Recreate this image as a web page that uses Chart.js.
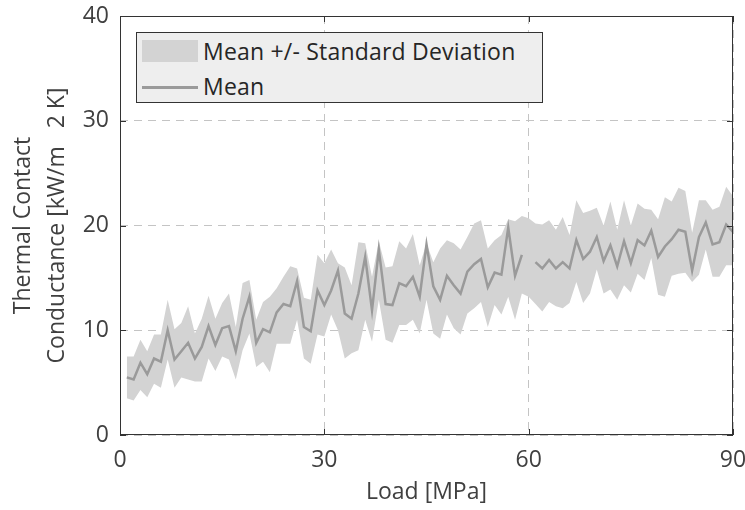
<!DOCTYPE html>
<html>
<head>
<meta charset="utf-8">
<script src="https://cdn.jsdelivr.net/npm/chart.js@4.4.1/dist/chart.umd.min.js"></script>
<style>
  body { margin: 0; background: #fff; }
  #wrap { position: relative; width: 745px; height: 510px; }
  #legend {
    position: absolute; left: 136px; top: 32px; width: 407px; height: 71px;
    background: #eeeeee; border: 1px solid #333; box-sizing: border-box;
    font-family: "Open Sans", sans-serif; font-size: 23px; color: #262626;
  }
  .item { position: absolute; left: 5px; height: 32px; line-height: 32px; }
  .item span { position: absolute; left: 61px; white-space: nowrap; letter-spacing: 0.2px; }
  .swatch { position: absolute; left: 0; top: 5px; width: 56px; height: 22px; background: #d3d3d3; }
  .line { position: absolute; left: 0; top: 16px; width: 56px; height: 3px; background: #9a9a9a; }
</style>
</head>
<body>
<div id="wrap">
  <canvas id="chart" width="745" height="510"></canvas>
  <div id="legend">
    <div class="item" style="top:2px"><div class="swatch"></div><span>Mean +/- Standard Deviation</span></div>
    <div class="item" style="top:37px"><div class="line"></div><span>Mean</span></div>
  </div>
</div>
<script>
var load = [];
for (var i = 1; i <= 90; i++) load.push(i);

var meanTCC = [5.5, 5.3, 6.9, 5.8, 7.3, 7.0, 10.0, 7.2, 8.0, 8.8,
  7.3, 8.4, 10.4, 8.6, 10.2, 10.4, 8.0, 11.1, 13.2, 8.8,
  10.1, 9.8, 11.7, 12.5, 12.3, 14.7, 10.3, 9.9, 13.8, 12.4,
  13.8, 15.7, 11.6, 11.1, 13.5, 17.0, 11.9, 17.7, 12.5, 12.4,
  14.5, 14.2, 15.1, 13.2, 18.2, 14.2, 12.9, 15.2, 14.3, 13.5,
  15.6, 16.3, 16.8, 14.1, 15.5, 15.3, 19.8, 15.2, 17.2, null,
  16.5, 15.9, 16.7, 15.9, 16.5, 15.9, 18.6, 16.8, 17.5, 18.9,
  16.6, 18.1, 16.1, 18.5, 16.4, 18.6, 18.1, 19.5, 17.0, 18.0,
  18.7, 19.6, 19.4, 15.7, 18.9, 20.3, 18.2, 18.4, 20.1, 19.4];

var upperTCC = [7.5, 7.5, 9.1, 8.0, 9.6, 9.6, 12.9, 10.1, 10.7, 12.3,
  9.7, 11.1, 13.3, 11.1, 12.6, 13.5, 10.3, 14.5, 14.8, 11.0,
  12.7, 13.2, 14.0, 15.1, 16.1, 15.9, 13.1, 12.9, 17.2, 16.4,
  17.7, 16.4, 16.0, 14.3, 18.4, 18.3, 15.1, 18.5, 16.0, 16.1,
  18.5, 17.8, 19.2, 16.2, 18.3, 16.5, 17.8, 18.6, 18.3, 17.7,
  18.9, 20.2, 20.5, 17.8, 18.6, 19.1, 20.6, 20.4, 20.9, 20.7,
  20.2, 20.1, 20.5, 19.6, 20.8, 19.1, 22.4, 21.2, 21.4, 21.7,
  20.0, 22.3, 19.6, 22.4, 20.0, 22.1, 21.6, 21.5, 20.6, 22.7,
  22.3, 23.6, 23.3, 19.3, 22.4, 22.4, 21.5, 21.8, 23.7, 22.8];

var lowerTCC = [3.5, 3.3, 4.3, 3.6, 4.9, 4.5, 7.2, 4.5, 5.5, 5.3,
  5.1, 5.1, 7.3, 6.1, 7.5, 7.2, 5.3, 8.1, 9.7, 6.5,
  7.0, 6.0, 8.7, 8.7, 8.7, 11.0, 7.3, 6.8, 9.6, 9.4,
  11.5, 10.0, 7.3, 7.8, 8.1, 11.0, 8.9, 12.9, 9.1, 8.8,
  10.5, 10.5, 11.0, 9.7, 12.9, 9.7, 9.2, 11.5, 10.2, 9.6,
  11.6, 12.1, 12.7, 10.3, 12.4, 11.5, 13.2, 11.0, 13.5, 13.2,
  12.5, 11.8, 12.7, 12.3, 12.1, 12.6, 14.6, 12.6, 13.5, 15.8,
  13.5, 13.9, 12.9, 14.3, 13.6, 15.4, 14.8, 16.9, 13.4, 13.2,
  15.2, 15.4, 15.5, 14.6, 15.3, 17.7, 15.1, 15.1, 16.2, 16.2];

var xTicks = [0, 30, 60, 90];
var yTicks = [0, 10, 20, 30, 40];

function pts(arr) {
  return arr.map(function(v, i) { return {x: load[i], y: v}; });
}

var fontFam = '"Open Sans", sans-serif';
var textCol = '#404040';

// box and inward tick marks, like matlab "box on"
var boxPlugin = {
  id: 'box',
  afterDraw: function(chart) {
    var a = chart.chartArea, ctx = chart.ctx;
    var sx = chart.scales.x, sy = chart.scales.y;
    ctx.save();
    ctx.strokeStyle = '#333';
    ctx.lineWidth = 1;
    ctx.strokeRect(a.left + 0.5, a.top + 0.5, a.right - a.left - 1, a.bottom - a.top - 1);
    ctx.beginPath();
    xTicks.forEach(function(v) {
      var p = Math.round(sx.getPixelForValue(v)) + 0.5;
      ctx.moveTo(p, a.bottom); ctx.lineTo(p, a.bottom - 6);
      ctx.moveTo(p, a.top); ctx.lineTo(p, a.top + 6);
    });
    yTicks.forEach(function(v) {
      var p = Math.round(sy.getPixelForValue(v)) + 0.5;
      ctx.moveTo(a.left, p); ctx.lineTo(a.left + 6, p);
      ctx.moveTo(a.right, p); ctx.lineTo(a.right - 6, p);
    });
    ctx.stroke();
    ctx.restore();
  }
};

new Chart(document.getElementById('chart'), {
  type: 'line',
  data: {
    datasets: [
      {
        label: 'Mean',
        data: pts(meanTCC),
        borderColor: '#9a9a9a',
        borderWidth: 2.5,
        pointRadius: 0,
        fill: false,
        spanGaps: false,
        tension: 0,
        order: 0
      },
      {
        label: 'lower',
        data: pts(lowerTCC),
        borderWidth: 0,
        borderColor: 'rgba(0,0,0,0)',
        pointRadius: 0,
        fill: false,
        tension: 0,
        order: 2
      },
      {
        label: 'Mean +/- Standard Deviation',
        data: pts(upperTCC),
        borderWidth: 0,
        borderColor: 'rgba(0,0,0,0)',
        backgroundColor: '#d3d3d3',
        pointRadius: 0,
        fill: 1,
        tension: 0,
        order: 1
      }
    ]
  },
  options: {
    responsive: false,
    animation: false,
    layout: { padding: { left: 0, right: 12, top: 16, bottom: 0 } },
    plugins: {
      legend: { display: false },
      tooltip: { enabled: false }
    },
    scales: {
      x: {
        type: 'linear',
        min: 0, max: 90,
        afterBuildTicks: function(axis) { axis.ticks = xTicks.map(function(v) { return {value: v}; }); },
        afterFit: function(axis) { axis.height = 75; axis.paddingLeft = 0; axis.paddingRight = 0; },
        grid: { color: '#c4c4c4', lineWidth: 1, drawTicks: false },
        border: { display: false, dash: [8, 6] },
        ticks: { color: textCol, font: { family: fontFam, size: 23 }, padding: 12 },
        title: { display: true, text: 'Load [MPa]', color: textCol, font: { family: fontFam, size: 23 }, padding: { top: 0 } }
      },
      y: {
        min: 0, max: 40,
        afterBuildTicks: function(axis) { axis.ticks = yTicks.map(function(v) { return {value: v}; }); },
        afterFit: function(axis) { axis.width = 120; axis.paddingTop = 0; axis.paddingBottom = 0; },
        grid: { color: '#c4c4c4', lineWidth: 1, drawTicks: false },
        border: { display: false, dash: [8, 6] },
        ticks: { color: textCol, font: { family: fontFam, size: 23 }, padding: 11 },
        title: {
          display: true,
          text: ['Thermal Contact', 'Conductance [kW/m   2 K]'],
          color: textCol,
          font: { family: fontFam, size: 23, lineHeight: 1.5 },
          padding: { top: 6, bottom: 4 }
        }
      }
    }
  },
  plugins: [boxPlugin]
});
</script>
</body>
</html>
